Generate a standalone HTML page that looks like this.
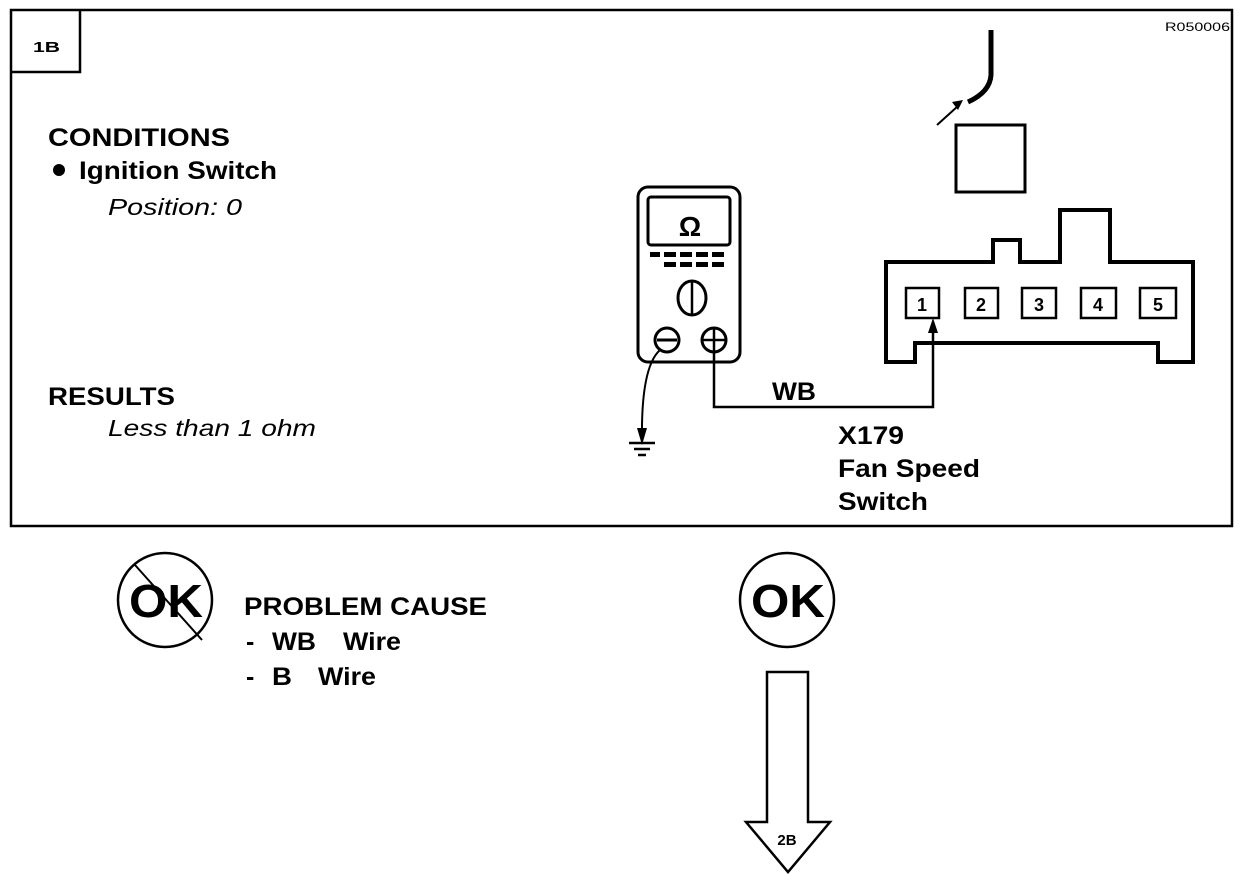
<!DOCTYPE html>
<html><head><meta charset="utf-8"><style>
html,body{margin:0;padding:0;background:#fff}
svg{display:block}
text{font-family:"Liberation Sans",Arial,sans-serif;fill:#000}
.b{font-weight:bold}
</style></head><body>
<svg width="1248" height="880" viewBox="0 0 1248 880" xmlns="http://www.w3.org/2000/svg">
<g fill="none" stroke="#000">
<rect x="11" y="10" width="1221" height="516" stroke-width="2.5"/>
<path d="M11 72 H80 V10" stroke-width="2.5"/>
<rect x="638" y="187" width="102" height="175" rx="10" stroke-width="3"/>
<rect x="648" y="197" width="82" height="48" rx="3" stroke-width="3"/>
<ellipse cx="692" cy="298" rx="14" ry="17" stroke-width="3"/>
<line x1="692" y1="282" x2="692" y2="314" stroke-width="2.5"/>
<circle cx="667" cy="340" r="12" stroke-width="3"/>
<line x1="657" y1="340" x2="677" y2="340" stroke-width="3"/>
<circle cx="714" cy="340" r="12" stroke-width="3"/>
<line x1="702" y1="340" x2="726" y2="340" stroke-width="2.5"/>
<line x1="714" y1="328" x2="714" y2="352" stroke-width="2.5"/>
<path d="M660 350 Q643 365 642 425" stroke-width="2"/>
<line x1="642" y1="425" x2="642" y2="442" stroke-width="2"/>
<line x1="629" y1="443" x2="655" y2="443" stroke-width="2.5"/>
<line x1="634" y1="449" x2="650" y2="449" stroke-width="2.5"/>
<line x1="638" y1="455" x2="646" y2="455" stroke-width="2.5"/>
<path d="M714 352 V407 H933 V330" stroke-width="2.5"/>
<path d="M886 362 V262 H993 V240 H1020 V262 H1060 V210 H1110 V262 H1193 V362 H1158 V343 H915 V362 Z" stroke-width="4"/>
<rect x="906" y="288" width="33" height="30" stroke-width="2.5"/>
<rect x="965" y="288" width="33" height="30" stroke-width="2.5"/>
<rect x="1022" y="288" width="34" height="30" stroke-width="2.5"/>
<rect x="1081" y="288" width="35" height="30" stroke-width="2.5"/>
<rect x="1140" y="288" width="36" height="30" stroke-width="2.5"/>
<rect x="956" y="125" width="69" height="67" stroke-width="3"/>
<path d="M991 30 V75 Q990 92 968 102" stroke-width="5"/>
<line x1="937" y1="125" x2="958" y2="106" stroke-width="2"/>
<circle cx="165" cy="600" r="47" stroke-width="2.5"/>
<line x1="135" y1="565" x2="202" y2="640" stroke-width="2"/>
<circle cx="787" cy="600" r="47" stroke-width="2.5"/>
<path d="M767 672 H808 V822 H830 L788 872 L746 822 H767 Z" stroke-width="2.5"/>
</g>
<g fill="#000">
<path d="M963 100 L952 102 L958 110 Z"/>
<path d="M642 445 L637 428 L647 428 Z"/>
<path d="M933 318 L928 333 L938 333 Z"/>
<rect x="650" y="252" width="10" height="5"/><rect x="664" y="252" width="12" height="5"/><rect x="680" y="252" width="12" height="5"/><rect x="696" y="252" width="12" height="5"/><rect x="712" y="252" width="12" height="5"/>
<rect x="664" y="262" width="12" height="5"/><rect x="680" y="262" width="12" height="5"/><rect x="696" y="262" width="12" height="5"/><rect x="712" y="262" width="12" height="5"/>
<circle cx="59" cy="170" r="6"/>
</g>
<text x="33" y="52" class="b" font-size="15" textLength="27" lengthAdjust="spacingAndGlyphs">1B</text>
<text x="1165" y="31" font-size="12" textLength="65" lengthAdjust="spacingAndGlyphs">R050006</text>
<text x="48" y="146" class="b" font-size="25" textLength="182" lengthAdjust="spacingAndGlyphs">CONDITIONS</text>
<text x="79" y="179" class="b" font-size="25" textLength="198" lengthAdjust="spacingAndGlyphs">Ignition Switch</text>
<text x="108" y="215" font-style="italic" font-size="23" textLength="134" lengthAdjust="spacingAndGlyphs">Position: 0</text>
<text x="48" y="405" class="b" font-size="25" textLength="127" lengthAdjust="spacingAndGlyphs">RESULTS</text>
<text x="108" y="436" font-style="italic" font-size="23" textLength="208" lengthAdjust="spacingAndGlyphs">Less than 1 ohm</text>
<text x="690" y="236" class="b" font-size="28" text-anchor="middle">Ω</text>
<text x="922" y="311" font-size="18" text-anchor="middle" class="b">1</text>
<text x="981" y="311" font-size="18" text-anchor="middle" class="b">2</text>
<text x="1039" y="311" font-size="18" text-anchor="middle" class="b">3</text>
<text x="1098" y="311" font-size="18" text-anchor="middle" class="b">4</text>
<text x="1158" y="311" font-size="18" text-anchor="middle" class="b">5</text>
<text x="772" y="400" class="b" font-size="25" textLength="44" lengthAdjust="spacingAndGlyphs">WB</text>
<text x="838" y="444" class="b" font-size="25" textLength="66" lengthAdjust="spacingAndGlyphs">X179</text>
<text x="838" y="477" class="b" font-size="25" textLength="142" lengthAdjust="spacingAndGlyphs">Fan Speed</text>
<text x="838" y="510" class="b" font-size="25" textLength="90" lengthAdjust="spacingAndGlyphs">Switch</text>
<text x="166" y="617" class="b" font-size="46" text-anchor="middle" textLength="74" lengthAdjust="spacingAndGlyphs">OK</text>
<text x="788" y="617" class="b" font-size="46" text-anchor="middle" textLength="74" lengthAdjust="spacingAndGlyphs">OK</text>
<text x="244" y="615" class="b" font-size="25" textLength="243" lengthAdjust="spacingAndGlyphs">PROBLEM CAUSE</text>
<text x="246" y="650" class="b" font-size="25">-</text>
<text x="272" y="650" class="b" font-size="25" textLength="44" lengthAdjust="spacingAndGlyphs">WB</text>
<text x="343" y="650" class="b" font-size="25" textLength="58" lengthAdjust="spacingAndGlyphs">Wire</text>
<text x="246" y="685" class="b" font-size="25">-</text>
<text x="272" y="685" class="b" font-size="25" textLength="20" lengthAdjust="spacingAndGlyphs">B</text>
<text x="318" y="685" class="b" font-size="25" textLength="58" lengthAdjust="spacingAndGlyphs">Wire</text>
<text x="787" y="845" class="b" font-size="15" text-anchor="middle">2B</text>
</svg>
</body></html>
